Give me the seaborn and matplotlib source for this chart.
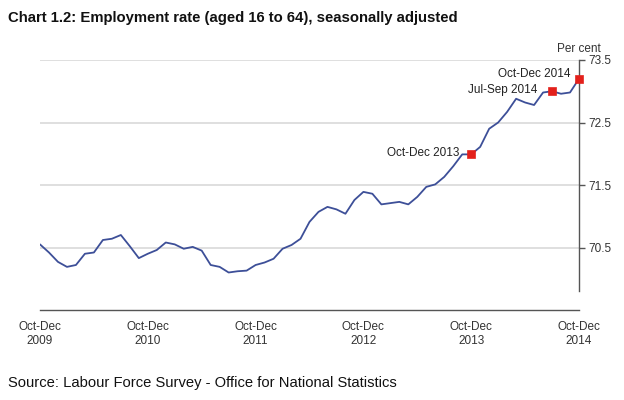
import pandas as pd
import matplotlib.pyplot as plt
import seaborn as sns

# monthly rolling quarters, Oct-Dec 2009 .. Oct-Dec 2014
rate = [70.55, 70.42, 70.27, 70.19, 70.22, 70.40, 70.42, 70.62, 70.64, 70.70,
        70.52, 70.33, 70.40, 70.46, 70.58, 70.55, 70.48, 70.51, 70.45, 70.22,
        70.19, 70.10, 70.12, 70.13, 70.22, 70.26, 70.32, 70.48, 70.54, 70.64,
        70.91, 71.07, 71.15, 71.11, 71.04, 71.26, 71.39, 71.36, 71.19, 71.21,
        71.23, 71.19, 71.31, 71.47, 71.51, 71.63, 71.80, 71.99, 71.99, 72.11,
        72.40, 72.50, 72.67, 72.88, 72.82, 72.78, 72.98, 73.00, 72.96, 72.98,
        73.20]
tick_labels = ['Oct-Dec\n2009', 'Oct-Dec\n2010', 'Oct-Dec\n2011',
               'Oct-Dec\n2012', 'Oct-Dec\n2013', 'Oct-Dec\n2014']
marked = [48, 57, 60]
marked_labels = ['Oct-Dec 2013', 'Jul-Sep 2014', 'Oct-Dec 2014']

df = pd.DataFrame({'mes': range(len(rate)), 'taxa': rate})
pontos = df.iloc[marked]

sns.set_style('white')
plt.rcParams['font.family'] = ['Liberation Sans', 'DejaVu Sans']

fig = plt.figure(figsize=(6.24, 4.0), dpi=100)
ax = fig.add_axes([40/624, 90/400, 539/624, 250/400])

for v in [70.5, 71.5, 72.5, 73.5]:
    ax.axhline(v, color='#d9d9d9', lw=1.2, zorder=0)

sns.lineplot(data=df, x='mes', y='taxa', color='#3d4f98', lw=1.3, ax=ax)
sns.scatterplot(data=pontos, x='mes', y='taxa', marker='s', s=36,
                color='#e3201b', edgecolor='#e3201b', zorder=5, ax=ax)
for c in ax.collections:
    c.set_clip_on(False)

offsets = [(-1.3, 0.03), (-1.6, 0.02), (-0.9, 0.07)]
for (m, lab), (dx, dy) in zip(zip(marked, marked_labels), offsets):
    ax.text(m + dx, rate[m] + dy, lab, ha='right', va='center',
            fontsize=8.5, color='#222222')

ax.set_xlim(0, 60)
ax.set_ylim(69.5, 73.5)
ax.set_xticks(range(0, 61, 12))
ax.set_xticklabels(tick_labels, fontsize=8.5, color='#333333')
ax.set_yticks([70.5, 71.5, 72.5, 73.5])
ax.set_yticklabels(['70.5', '71.5', '72.5', '73.5'], fontsize=8.5, color='#333333')
ax.yaxis.tick_right()
ax.tick_params(axis='y', direction='out', length=4, width=1, color='#555555', pad=3)
ax.tick_params(axis='x', direction='out', length=4, width=1, color='#555555', pad=4)
ax.set_xlabel('')
ax.set_ylabel('')

for s in ['top', 'left']:
    ax.spines[s].set_visible(False)
ax.spines['right'].set_bounds(69.8, 73.5)
ax.spines['right'].set_color('#555555')
ax.spines['bottom'].set_color('#555555')
ax.spines['right'].set_linewidth(1)
ax.spines['bottom'].set_linewidth(1)

ax.text(1.0, 1.02, 'Per cent', transform=ax.transAxes, ha='center', va='bottom',
        fontsize=8.5, color='#333333')

fig.text(8/624, 1 - 18/400, 'Chart 1.2: Employment rate (aged 16 to 64), seasonally adjusted',
         fontsize=10.7, fontweight='bold', ha='left', va='center', color='#111111')
fig.text(8/624, 1 - 383/400, 'Source: Labour Force Survey - Office for National Statistics',
         fontsize=10.6, ha='left', va='center', color='#111111')

fig.savefig('out.png', dpi=100)
